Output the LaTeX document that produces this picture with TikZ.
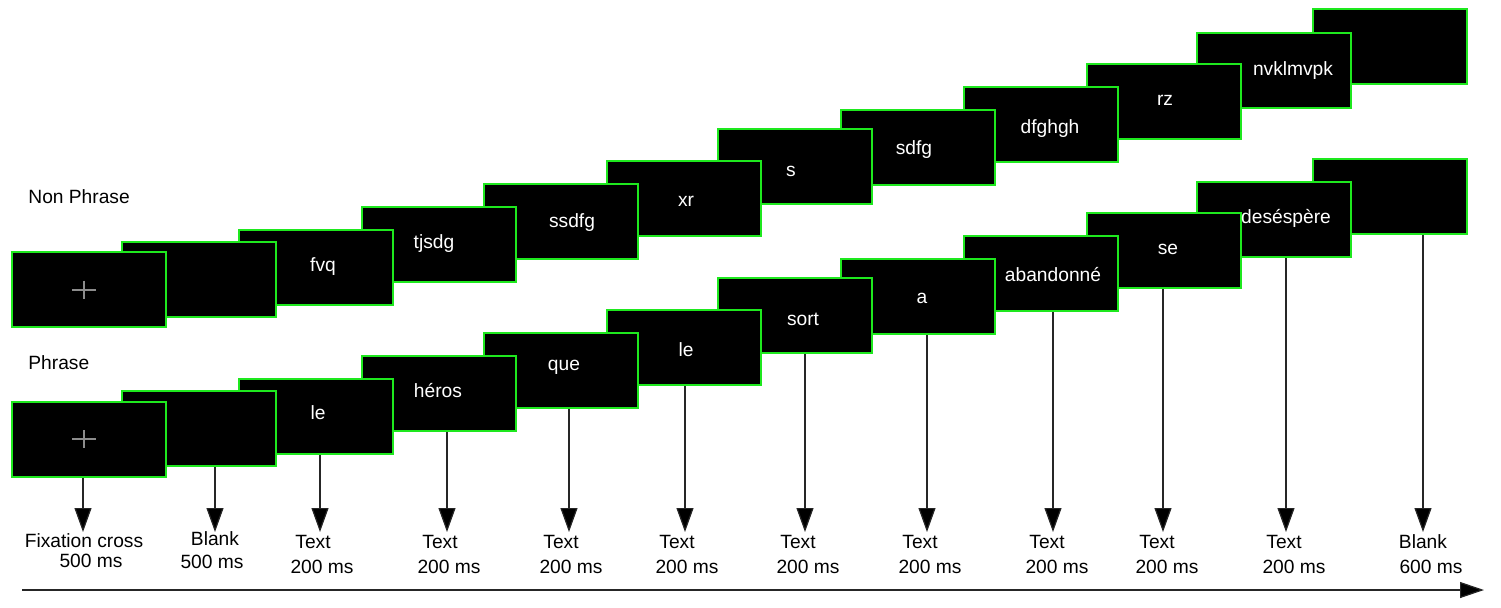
\documentclass[tikz,border=0pt]{standalone}
\usepackage{fontspec}
\setmainfont{Liberation Sans}
\usetikzlibrary{arrows.meta}

\definecolor{screenedge}{RGB}{30,232,30}

\begin{document}
\begin{tikzpicture}[x=0.5pt,y=-0.5pt,
    screen/.style={draw=screenedge, fill=black, line width=1pt,
      minimum width=77pt, minimum height=37.5pt, inner sep=0pt},
    word/.style={text=white, anchor=base, inner sep=0pt},
    caption/.style={anchor=base, inner sep=0pt},
    crossline/.style={draw=black!45, line width=1pt},
    tick/.style={draw=black!85, line width=0.6pt, -{Triangle[length=12pt,width=8.5pt,fill=black]}},
    timeline/.style={draw=black!85, line width=0.6pt, -{Triangle[length=12pt,width=8pt,fill=black]}},
    font=\fontsize{9.6}{11.5}\selectfont]

\useasboundingbox (0,0) rectangle (1501,607);

% screens, last one first so that earlier ones lie on top
\foreach \i/\cx/\cy in {12/1389.5/46.5, 11/1274/70, 10/1163.5/101, 9/1040.5/124,
    8/918/147, 7/794.5/166, 6/683.5/198, 5/560.5/221, 4/438.5/244,
    3/316/267, 2/199/279, 1/88.5/289.5}{
  \node[screen] (n\i) at (\cx,\cy) {};
  \node[screen] (p\i) at (\cx,\cy+149.5) {};
}

% fixation crosses
\foreach \b in {n1,p1}{
  \draw[crossline] ([xshift=-8.25pt]\b.center) -- ([xshift=3.75pt]\b.center);
  \draw[crossline] ([xshift=-2.25pt,yshift=4.5pt]\b.center) -- ([xshift=-2.25pt,yshift=-4.5pt]\b.center);
}

% words on the screens
\foreach \i/\tx/\ty/\w in {3/323/271/fvq, 4/434/248/tjsdg, 5/572/227/ssdfg,
    6/686/206/xr, 7/791/176/s, 8/914/154/sdfg, 9/1050/133/dfghgh,
    10/1165/105/rz, 11/1293/75/nvklmvpk}
  \node[word] (nw\i) at (\tx,\ty) {\w};
\foreach \i/\tx/\ty/\w in {3/318/419/le, 4/438/397/héros, 5/564/370/que,
    6/686/356/le, 7/803/325/sort, 8/922/303/a, 9/1053/281/abandonné,
    10/1168/254/se, 11/1286/223/deséspère}
  \node[word] (pw\i) at (\tx,\ty) {\w};

\node[anchor=base west, inner sep=0pt] (nonphrase) at (28,203) {Non Phrase};
\node[anchor=base west, inner sep=0pt] (phrase) at (28,369) {Phrase};

% durations
\foreach \i/\x/\ax/\ay/\a/\bx/\by/\b in {1/83/84/547/Fixation cross/91/567/500 ms,
    2/215/215/545/Blank/212/568/500 ms, 3/320/313/548/Text/322/573/200 ms,
    4/447/440/548/Text/449/573/200 ms, 5/569/561/548/Text/571/573/200 ms,
    6/685/677/548/Text/687/573/200 ms, 7/805/798/548/Text/808/573/200 ms,
    8/927/920/548/Text/930/573/200 ms, 9/1053/1047/548/Text/1057/573/200 ms,
    10/1163/1157/548/Text/1167/573/200 ms, 11/1286/1284/548/Text/1294/573/200 ms,
    12/1423/1423/548/Blank/1431/573/600 ms}{
  \coordinate (t\i) at (\x,532);
  \draw[tick] (p\i.south -| t\i) -- (t\i);
  \node[caption] (c\i) at (\ax,\ay) {\a};
  \node[caption] (d\i) at (\bx,\by) {\b};
}

\coordinate (tstart) at (22,590);
\coordinate (tend) at (1484,590);
\draw[timeline] (tstart) -- (tend);

\end{tikzpicture}
\end{document}
